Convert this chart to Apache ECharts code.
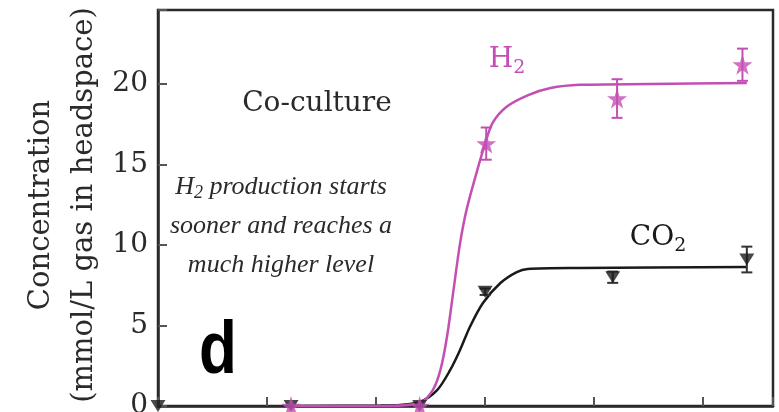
<!DOCTYPE html>
<html>
<head>
<meta charset="utf-8">
<script src="https://cdn.jsdelivr.net/npm/echarts@6/dist/echarts.min.js"></script>
<style>
  html, body { margin: 0; padding: 0; background: #fff; }
  #chart { width: 779px; height: 412px; }
</style>
</head>
<body>
<div id="chart"></div>
<script>
// Measured H2 (stars) and CO2 (inverted triangles), with standard errors
const h2X = [1.22, 2.40, 3.01, 4.21, 5.36];
const h2Y = [0, 0, 16.3, 19.1, 21.2];
const h2Err = [0, 0, 1.0, 1.2, 1.0];

const co2X = [0, 1.22, 2.40, 3.00, 4.17, 5.40];
const co2Y = [0, 0, 0, 7.1, 8.0, 9.1];
const co2Err = [0, 0, 0, 0.2, 0.35, 0.8];

// Fitted growth curves
const h2FitX = [1.22, 2.04, 2.40, 2.52, 2.59, 2.65, 2.71, 2.77, 2.83, 2.93, 3.00, 3.07, 3.20, 3.39, 3.60, 3.87, 4.51, 5.40];
const h2FitY = [0, 0, 0.19, 0.99, 2.24, 4.29, 7.2, 10.1, 12.2, 14.7, 16.3, 17.6, 18.6, 19.3, 19.75, 19.95, 20.0, 20.06];
const co2FitX = [1.22, 2.04, 2.22, 2.40, 2.56, 2.68, 2.77, 2.86, 2.98, 3.14, 3.29, 3.39, 3.87, 5.40];
const co2FitY = [0, 0.03, 0.06, 0.25, 0.99, 2.24, 3.48, 4.91, 6.4, 7.64, 8.32, 8.51, 8.57, 8.63];

// Axis ticks
const yTicks = [0, 5, 10, 15, 20];
const xTickStep = 1;

const PINK = '#c44fb4';
const INK = '#1a1a1a';
const SERIF = 'DejaVu Serif';
const TIMES = 'Liberation Serif';

const zip = (xs, ys) => xs.map((x, i) => [x, ys[i]]);
const errRows = (xs, ys, es) => xs.map((x, i) => [x, ys[i] - es[i], ys[i] + es[i]]).filter((r, i) => es[i] > 0);

const STAR = 'path://M50,0 L61.8,35.5 L99,35.5 L69,57.5 L80.5,93 L50,71 L19.5,93 L31,57.5 L1,35.5 L38.2,35.5 Z';

function errorBar(color) {
  return function (params, api) {
    const x = api.value(0);
    const lo = api.coord([x, api.value(1)]);
    const hi = api.coord([x, api.value(2)]);
    const w = 5.5;
    const style = { stroke: color, lineWidth: 2 };
    return {
      type: 'group',
      children: [
        { type: 'line', shape: { x1: lo[0], y1: lo[1], x2: hi[0], y2: hi[1] }, style },
        { type: 'line', shape: { x1: lo[0] - w, y1: lo[1], x2: lo[0] + w, y2: lo[1] }, style },
        { type: 'line', shape: { x1: hi[0] - w, y1: hi[1], x2: hi[0] + w, y2: hi[1] }, style }
      ]
    };
  };
}

const chart = echarts.init(document.getElementById('chart'), null, { renderer: 'canvas' });

chart.setOption({
  animation: false,
  backgroundColor: '#fff',
  grid: {
    left: 158, top: 10, right: 6, bottom: 6,
    containLabel: false, outerBoundsMode: 'none',
    show: true, borderColor: '#2a2a2a', borderWidth: 2.5, backgroundColor: 'transparent'
  },
  xAxis: {
    type: 'value', min: 0, max: 5.64, interval: xTickStep,
    axisLine: { show: true, lineStyle: { color: '#2a2a2a', width: 2.5 } },
    axisTick: { show: true, inside: true, length: 9, lineStyle: { color: '#555', width: 2 } },
    axisLabel: { show: false },
    splitLine: { show: false }
  },
  yAxis: {
    type: 'value', min: 0, max: 24.6, interval: 5,
    axisLine: { show: true, lineStyle: { color: '#2a2a2a', width: 2.5 } },
    axisTick: { show: true, inside: true, length: 9, lineStyle: { color: '#555', width: 2 } },
    axisLabel: {
      show: true, margin: 10, color: '#2a2a2a',
      fontFamily: SERIF, fontSize: 28,
      formatter: v => (yTicks.indexOf(v) >= 0 ? String(v) : '')
    },
    splitLine: { show: false }
  },
  series: [
    {
      name: 'CO2 fit', type: 'line', data: zip(co2FitX, co2FitY),
      smooth: 0.3, showSymbol: false, lineStyle: { color: INK, width: 2.5 }, z: 2
    },
    {
      name: 'H2 fit', type: 'line', data: zip(h2FitX, h2FitY),
      smooth: 0.3, showSymbol: false, lineStyle: { color: PINK, width: 2.5 }, z: 3
    },
    {
      name: 'CO2 error', type: 'custom', data: errRows(co2X, co2Y, co2Err),
      renderItem: errorBar('#333'), z: 4
    },
    {
      name: 'CO2', type: 'scatter', data: zip(co2X, co2Y),
      symbol: 'triangle', symbolRotate: 180, symbolSize: [15, 12],
      itemStyle: { color: INK }, z: 5
    },
    {
      name: 'H2 error', type: 'custom', data: errRows(h2X, h2Y, h2Err),
      renderItem: errorBar(PINK), z: 6
    },
    {
      name: 'H2', type: 'scatter', data: zip(h2X, h2Y),
      symbol: STAR, symbolSize: 20,
      itemStyle: { color: PINK }, z: 7
    }
  ],
  graphic: [
    {
      type: 'text', x: 63, y: 205, rotation: Math.PI / 2,
      style: {
        text: 'Concentration\n(mmol/L gas in headspace)',
        fontFamily: SERIF, fontSize: 29, lineHeight: 43,
        fill: '#2a2a2a', align: 'center', verticalAlign: 'middle'
      }
    },
    {
      type: 'text', x: 317, y: 104,
      style: {
        text: 'Co-culture', fontFamily: SERIF, fontSize: 28,
        fill: '#2a2a2a', align: 'center', verticalAlign: 'middle'
      }
    },
    {
      type: 'text', x: 281, y: 226,
      style: {
        text: '{i|H}{s|2}{i| production starts}\n{i|sooner and reaches a}\n{i|much higher level}',
        fontFamily: TIMES, fontStyle: 'italic', fontSize: 26, lineHeight: 39,
        fill: '#2a2a2a', align: 'center', verticalAlign: 'middle',
        rich: {
          i: { fontFamily: TIMES, fontStyle: 'italic', fontSize: 26, fill: '#2a2a2a', lineHeight: 39 },
          s: { fontFamily: TIMES, fontStyle: 'italic', fontSize: 18, fill: '#2a2a2a', padding: [13, 0, 0, 0], lineHeight: 39 }
        }
      }
    },
    {
      type: 'text', x: 507, y: 60,
      style: {
        text: '{m|H}{s|2}', fill: PINK, align: 'center', verticalAlign: 'middle',
        rich: {
          m: { fontFamily: SERIF, fontSize: 28, fill: PINK, lineHeight: 36 },
          s: { fontFamily: SERIF, fontSize: 19, fill: PINK, padding: [16, 0, 0, 0], lineHeight: 36 }
        }
      }
    },
    {
      type: 'text', x: 658, y: 238,
      style: {
        text: '{m|CO}{s|2}', fill: INK, align: 'center', verticalAlign: 'middle',
        rich: {
          m: { fontFamily: SERIF, fontSize: 28, fill: INK, lineHeight: 36 },
          s: { fontFamily: SERIF, fontSize: 19, fill: INK, padding: [16, 0, 0, 0], lineHeight: 36 }
        }
      }
    },
    {
      type: 'text', x: 218, y: 352, scaleY: 1.2,
      style: {
        text: 'd', fontFamily: 'Liberation Sans', fontWeight: 'bold', fontSize: 62,
        fill: '#000', align: 'center', verticalAlign: 'middle'
      }
    }
  ]
});
</script>
</body>
</html>
